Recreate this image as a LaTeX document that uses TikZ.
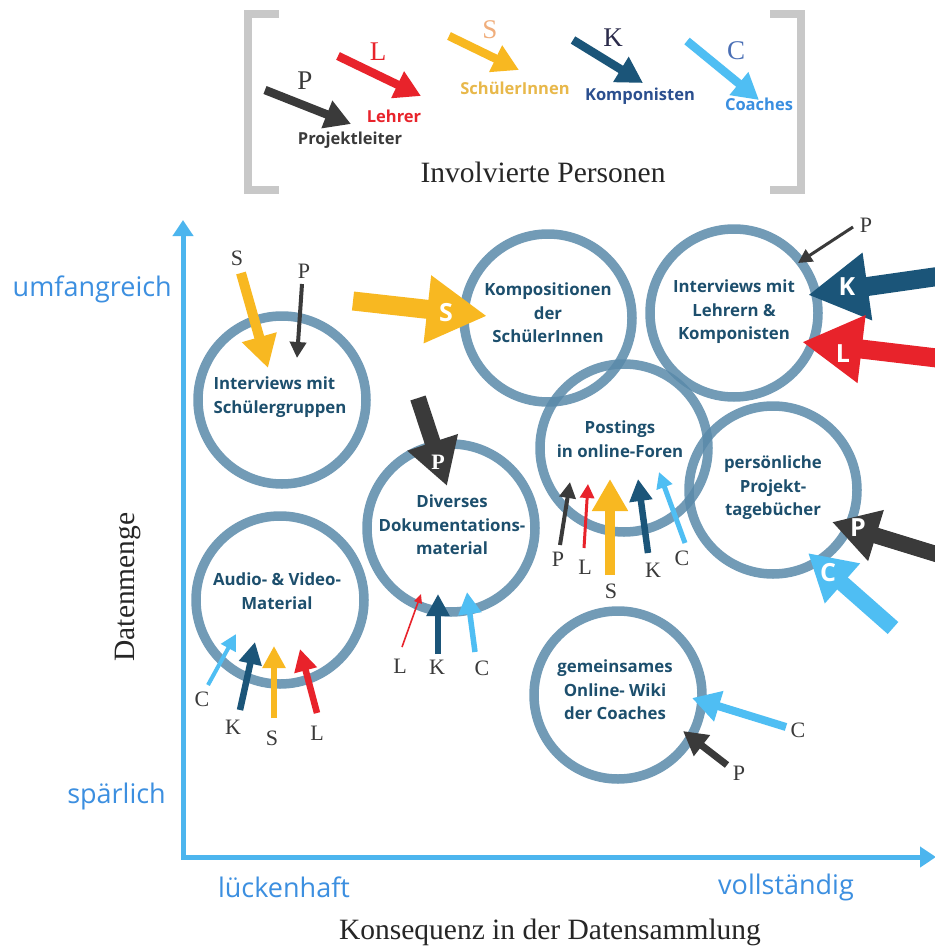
\documentclass[tikz,border=0pt]{standalone}
\usepackage{fontspec}
\setmainfont{Liberation Serif}
\newfontfamily\osans{Open Sans}
\usetikzlibrary{arrows.meta}
\definecolor{ringc}{HTML}{5A8AAA}
\definecolor{ctc}{HTML}{1D4F6D}
\definecolor{pcol}{HTML}{3A3A3A}
\definecolor{lcol}{HTML}{E8232B}
\definecolor{scol}{HTML}{F8B821}
\definecolor{kcol}{HTML}{1B5579}
\definecolor{ccol}{HTML}{4FBEF3}
\definecolor{axc}{HTML}{4CB5EE}
\definecolor{axt}{HTML}{3C8FE0}
\definecolor{brk}{HTML}{C8C8C8}
\definecolor{legS}{HTML}{F0AE7C}
\definecolor{legK}{HTML}{2B2B4B}
\definecolor{legC}{HTML}{4A6FB5}
\definecolor{txS}{HTML}{E8B84A}
\definecolor{txK}{HTML}{2B4F8F}
\definecolor{txC}{HTML}{3A8FE0}
\newcommand\darr[4]{\coordinate (#2a) at (#3); \coordinate (#2b) at (#4); \draw[#1] (#2a) -- (#2b);}
\begin{document}
\begin{tikzpicture}[x=1pt,y=-1pt,
  ring/.style={circle, draw=ringc, draw opacity=0.85, line width=9.5pt, minimum size=168pt, inner sep=0pt},
  ctext/.style={font=\osans\bfseries\fontsize{16.8}{23.5}\selectfont, text=ctc, align=center, inner sep=0pt},
  lbl/.style={font=\fontsize{22}{22}\selectfont, text=pcol, inner sep=0pt},
  legl/.style={font=\fontsize{27}{27}\selectfont, inner sep=0pt},
  axl/.style={font=\osans\fontsize{27}{27}\selectfont, text=axt, inner sep=0pt},
  ttl/.style={font=\fontsize{29.5}{29.5}\selectfont, text=black!85, inner sep=0pt},
  legt/.style={font=\osans\bfseries\fontsize{16.5}{16.5}\selectfont, inner sep=0pt},
  bigl/.style={font=\osans\bfseries\fontsize{25}{25}\selectfont, text=white, inner sep=0pt},
  thinA/.style={line width=3pt, -{Triangle[length=14pt,width=14pt]}},
  smA/.style={line width=4pt, -{Triangle[length=16pt,width=16pt]}},
  medA/.style={line width=6.5pt, -{Triangle[length=22pt,width=22pt]}},
  bigA/.style={line width=10pt, -{Triangle[length=32pt,width=34pt]}},
  legA/.style={line width=8.5pt, -{Triangle[length=26pt,width=28pt]}},
  fatA/.style={line width=19pt, -{Triangle[length=60pt,width=64pt]}},
  fatB/.style={line width=16pt, -{Triangle[length=46pt,width=50pt]}},
  axis/.style={line width=5pt, draw=axc, {Triangle[length=16pt,width=20pt]}-{Triangle[length=16pt,width=20pt]}},
  brack/.style={line width=8pt, draw=brk}
]
\useasboundingbox[fill=white] (0,0) rectangle (934,950);

% ---------- legend ----------
\coordinate (bl1) at (279,14); \coordinate (bl2) at (248,14);
\coordinate (bl3) at (248,190); \coordinate (bl4) at (279,190);
\draw[brack] (bl1) -- (bl2) -- (bl3) -- (bl4);
\coordinate (br1) at (770,14); \coordinate (br2) at (801,14);
\coordinate (br3) at (801,190); \coordinate (br4) at (770,190);
\draw[brack] (br1) -- (br2) -- (br3) -- (br4);

\darr{legA, pcol}{lgp}{265,90}{351,124}
\darr{legA, lcol}{lgl}{338,56}{421,96}
\darr{legA, scol}{lgs}{449,36}{519,70}
\darr{legA, kcol}{lgk}{573,40}{643,83}
\darr{legA, ccol}{lgc}{687,41}{759,100}
\node[legl, text=pcol] (lp) at (305,81) {P};
\node[legl, text=lcol] (ll) at (378,52) {L};
\node[legl, text=legS] (ls) at (490,30) {S};
\node[legl, text=legK] (lk) at (613,38) {K};
\node[legl, text=legC] (lc) at (736,51) {C};
\node[legt, text=pcol] (tp) at (350,140) {Projektleiter};
\node[legt, text=lcol] (tl) at (394,116) {Lehrer};
\node[legt, text=txS] (ts) at (515,88) {SchülerInnen};
\node[legt, text=txK] (tk) at (640,96) {Komponisten};
\node[legt, text=txC] (tc) at (759,104) {Coaches};
\node[ttl] (inv) at (543,172) {Involvierte Personen};

% ---------- axes ----------
\coordinate (ytop) at (183,220);
\coordinate (orig) at (183,857);
\coordinate (xend) at (936,857);
\draw[axis] (ytop) -- (orig) -- (xend);
\node[axl, anchor=east] (umf) at (172,289) {umfangreich};
\node[axl, anchor=east] (spa) at (166,796) {spärlich};
\node[axl] (luk) at (284,887) {lückenhaft};
\node[axl] (vol) at (786,887) {vollständig};
\node[ttl, rotate=90] (dat) at (128,587) {Datenmenge};
\node[ttl] (kon) at (550,932) {Konsequenz in der Datensammlung};

% ---------- circles ----------
\node[ring] (c1) at (282,400) {};
\node[ring] (c2) at (548,318) {};
\node[ring] (c3) at (734,313) {};
\node[ring] (c4) at (624,448) {};
\node[ring] (c5) at (773,490) {};
\node[ring] (c6) at (451,528) {};
\node[ring] (c7) at (280,600) {};
\node[ring] (c8) at (618,695) {};

% ---------- arrows: Interviews mit Schuelergruppen ----------
\darr{bigA, scol}{a1s}{241,273}{268,368}
\darr{smA, pcol}{a1p}{302,284}{297,358}
\node[lbl] (l1s) at (237,258) {S};
\node[lbl] (l1p) at (304,271) {P};

% ---------- Kompositionen ----------
\darr{fatA, scol}{a2s}{353,301}{487,316}
\node[bigl] (l2s) at (446,313) {S};

% ---------- Lehrern & Komponisten ----------
\darr{thinA, pcol}{a3p}{853,227}{798,263}
\node[lbl] (l3p) at (866,225) {P};
\darr{fatA, kcol}{a3k}{962,273}{808,295}
\node[bigl] (l3k) at (847,287) {K};
\darr{fatA, lcol}{a3l}{962,361}{802,342}
\node[bigl] (l3l) at (843,354) {L};

% ---------- Postings ----------
\darr{smA, pcol}{a4p}{560,545}{570,482}
\darr{thinA, lcol}{a4l}{584,548}{588,484}
\darr{bigA, scol}{a4s}{610,575}{610,479}
\darr{medA, kcol}{a4k}{648,553}{638,479}
\darr{smA, line width=5pt, ccol}{a4c}{685,543}{659,472}
\node[lbl] (l4p) at (558,559) {P};
\node[lbl] (l4l) at (585,567) {L};
\node[lbl] (l4s) at (611,591) {S};
\node[lbl] (l4k) at (653,570) {K};
\node[lbl] (l4c) at (682,558) {C};

% ---------- persoenliche Projekttagebuecher ----------
\darr{fatB, pcol}{a5p}{962,562}{832,522}
\node[bigl] (l5p) at (858,528) {P};
\darr{fatB, ccol}{a5c}{893,628}{808,553}
\node[bigl] (l5c) at (828,573) {C};

% ---------- Diverses ----------
\darr{fatB, pcol}{a6p}{418,398}{447,486}
\node[bigl, font=\bfseries\fontsize{22}{22}\selectfont] (l6p) at (438,462) {P};
\darr{line width=1.6pt, lcol, -{Triangle[length=9pt,width=8pt]}}{a6l}{402,647}{421,594}
\darr{medA, kcol}{a6k}{438,654}{438,594}
\darr{medA, line width=5.5pt, ccol}{a6c}{475,652}{467,592}
\node[lbl] (l6l) at (400,666) {L};
\node[lbl] (l6k) at (437,667) {K};
\node[lbl] (l6c) at (482,668) {C};

% ---------- Audio & Video ----------
\darr{smA, ccol}{a7c}{208,685}{236,634}
\darr{medA, kcol}{a7k}{240,710}{255,642}
\darr{medA, scol}{a7s}{274,718}{274,646}
\darr{medA, lcol}{a7l}{317,713}{300,649}
\node[lbl] (l7c) at (202,699) {C};
\node[lbl] (l7k) at (233,727) {K};
\node[lbl] (l7s) at (272,738) {S};
\node[lbl] (l7l) at (317,733) {L};

% ---------- Wiki ----------
\darr{line width=8pt, ccol, -{Triangle[length=28pt,width=30pt]}}{a8c}{786,727}{692,698}
\darr{line width=7pt, pcol, -{Triangle[length=24pt,width=25pt]}}{a8p}{727,765}{683,731}
\node[lbl] (l8c) at (798,730) {C};
\node[lbl] (l8p) at (739,773) {P};

% ---------- circle texts ----------
\node[ctext, align=left] (t1) at (280,397) {Interviews mit\\Schülergruppen};
\node[ctext] (t2) at (548,313) {Kompositionen\\der\\SchülerInnen};
\node[ctext] (t3) at (734,312) {Interviews mit\\Lehrern \&\\Komponisten};
\node[ctext] (t4) at (620,439) {Postings\\in online-Foren};
\node[ctext] (t5) at (773,488) {persönliche\\Projekt-\\tagebücher};
\node[ctext] (t6) at (452,525) {Diverses\\Dokumentations-\\material};
\node[ctext] (t7) at (277,591) {Audio- \& Video-\\Material};
\node[ctext] (t8) at (615,690) {gemeinsames\\Online- Wiki\\der Coaches};
\end{tikzpicture}
\end{document}
